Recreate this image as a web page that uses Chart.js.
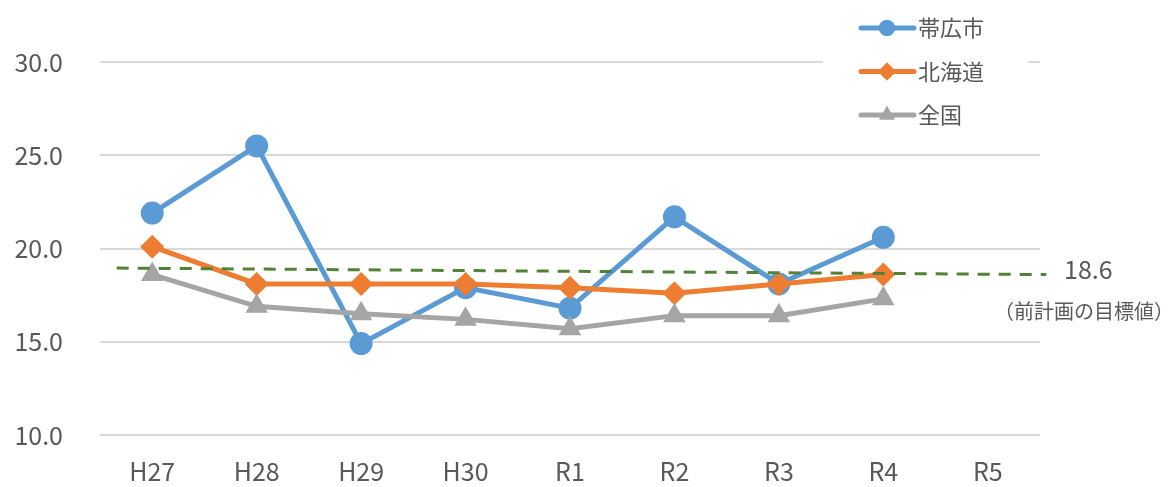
<!DOCTYPE html>
<html>
<head>
<meta charset="utf-8">
<script src="https://cdn.jsdelivr.net/npm/chart.js@4"></script>
<style>
  body { margin: 0; background: #fff; }
</style>
</head>
<body>
<canvas id="chart" width="1174" height="487"></canvas>
<script>
const labels = ['H27', 'H28', 'H29', 'H30', 'R1', 'R2', 'R3', 'R4', 'R5'];
const obihiro = [21.9, 25.5, 14.9, 17.9, 16.8, 21.7, 18.1, 20.6, null];
const hokkaido = [20.1, 18.1, 18.1, 18.1, 17.9, 17.6, 18.1, 18.6, null];
const zenkoku = [18.6, 16.9, 16.5, 16.2, 15.7, 16.4, 16.4, 17.3, null];
// target line of the previous plan (slightly sloped in the original)
const targetX = [-0.34, 8.56];
const targetY = [18.95, 18.6];
const targetLabel = '18.6';
const targetNote = '（前計画の目標値）';

const FONT = '"Noto Sans CJK JP", "Noto Sans", sans-serif';
const TEXT = '#595959';
const BLUE = '#5B9BD5', ORANGE = '#ED7D31', GRAY = '#A5A5A5', GREEN = '#548235';

const legendItems = [
  { text: '帯広市', color: BLUE, shape: 'circle' },
  { text: '北海道', color: ORANGE, shape: 'rectRot' },
  { text: '全国', color: GRAY, shape: 'triangle' }
];

const extras = {
  id: 'extras',
  afterDraw(chart) {
    const ctx = chart.ctx;
    const y = chart.scales.y;
    ctx.save();
    // target annotation
    ctx.fillStyle = TEXT;
    ctx.textBaseline = 'middle';
    ctx.textAlign = 'left';
    ctx.font = '25px ' + FONT;
    ctx.fillText(targetLabel, 1064, y.getPixelForValue(18.6) - 5);
    ctx.font = '20px ' + FONT;
    ctx.fillText(targetNote, 994, y.getPixelForValue(18.6) + 37);

    // legend
    ctx.fillStyle = '#fff';
    ctx.fillRect(823, 4, 205, 132);
    legendItems.forEach((it, i) => {
      const cy = 28 + i * 43.5;
      ctx.strokeStyle = it.color;
      ctx.lineWidth = 5;
      ctx.lineCap = 'round';
      ctx.beginPath();
      ctx.moveTo(861, cy);
      ctx.lineTo(914, cy);
      ctx.stroke();
      ctx.fillStyle = it.color;
      Chart.helpers.drawPoint(ctx, { pointStyle: it.shape, radius: it.shape === 'circle' ? 8 : 9, rotation: 0, borderWidth: 0 }, 887, cy);
      ctx.fill();
      ctx.fillStyle = TEXT;
      ctx.font = '22px ' + FONT;
      ctx.textAlign = 'left';
      ctx.fillText(it.text, 918, cy);
    });
    ctx.restore();
  }
};

new Chart(document.getElementById('chart'), {
  type: 'line',
  data: {
    labels,
    datasets: [
      {
        label: '帯広市', data: obihiro, order: 4,
        borderColor: BLUE, backgroundColor: BLUE, borderWidth: 5,
        pointStyle: 'circle', pointRadius: 11.5, pointBorderWidth: 0
      },
      {
        label: '北海道', data: hokkaido, order: 3,
        borderColor: ORANGE, backgroundColor: ORANGE, borderWidth: 5,
        pointStyle: 'rectRot', pointRadius: 12, pointBorderWidth: 0
      },
      {
        label: '全国', data: zenkoku, order: 2,
        borderColor: GRAY, backgroundColor: GRAY, borderWidth: 5,
        pointStyle: 'triangle', pointRadius: 13, pointBorderWidth: 0
      },
      {
        label: '目標値', order: 1, xAxisID: 'x2',
        data: targetX.map((x, i) => ({ x, y: targetY[i] })),
        borderColor: GREEN, borderWidth: 3, borderDash: [12, 9],
        pointRadius: 0, clip: false
      }
    ]
  },
  options: {
    responsive: false,
    animation: false,
    layout: { padding: { top: 62, right: 134, left: 0, bottom: 0 } },
    plugins: { legend: { display: false }, tooltip: { enabled: false } },
    scales: {
      x: {
        offset: true,
        grid: { display: false },
        border: { display: false },
        ticks: { color: TEXT, font: { family: FONT, size: 25 }, padding: 13 },
        afterFit(s) { s.height = 48; }
      },
      x2: {
        type: 'linear', display: false, min: -0.5, max: 8.5
      },
      y: {
        min: 10, max: 30,
        grid: { color: '#D9D9D9', lineWidth: 2, drawTicks: false },
        border: { display: false },
        ticks: {
          stepSize: 5, color: TEXT, font: { family: FONT, size: 25 }, padding: 37,
          callback: v => v.toFixed(1)
        },
        afterFit(s) { s.width = 100; }
      }
    }
  },
  plugins: [extras]
});
</script>
</body>
</html>
